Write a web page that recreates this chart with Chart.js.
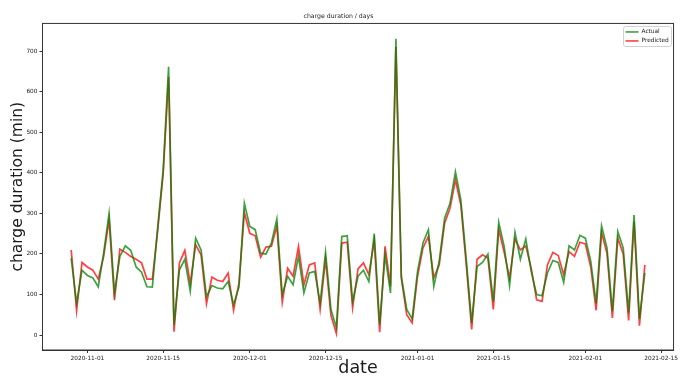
<!DOCTYPE html>
<html>
<head>
<meta charset="utf-8">
<script src="https://cdn.jsdelivr.net/npm/chart.js@4.4.0/dist/chart.umd.min.js"></script>
<style>
  html, body { margin: 0; padding: 0; background: #fff; }
  #wrap { width: 680px; height: 378px; }
</style>
</head>
<body>
<div id="wrap"><canvas id="chart"></canvas></div>
<script>
// daily values, first day 2020-10-29
var startDate = '2020-10-29';

var actual = [
  190, 79, 160, 147, 141, 119, 202, 300, 104, 194,
  220, 209, 168, 155, 119, 118, 268, 407, 662, 25,
  161, 187, 108, 239, 210, 95, 122, 116, 114, 132,
  75, 118, 325, 268, 260, 202, 200, 227, 286, 100,
  145, 124, 194, 104, 153, 157, 79, 204, 63, 18,
  243, 245, 83, 145, 160, 132, 250, 26, 198, 104,
  731, 145, 63, 40, 157, 227, 260, 120, 182, 288,
  325, 403, 333, 186, 30, 169, 179, 200, 83, 278,
  219, 122, 253, 187, 237, 157, 100, 97, 153, 184,
  179, 130, 220, 210, 246, 239, 182, 78, 269, 215,
  59, 255, 215, 55, 296, 40, 153
];

var predicted = [
  210, 60, 179, 168, 160, 138, 194, 284, 86, 212,
  204, 194, 187, 178, 138, 138, 260, 399, 637, 8,
  178, 209, 127, 223, 198, 77, 143, 135, 132, 153,
  61, 128, 302, 251, 245, 192, 217, 219, 269, 81,
  165, 145, 219, 124, 173, 178, 63, 187, 48, 4,
  227, 229, 67, 163, 178, 149, 233, 7, 219, 120,
  711, 140, 50, 30, 145, 215, 243, 141, 173, 276,
  313, 383, 321, 173, 14, 187, 198, 190, 63, 261,
  204, 141, 237, 210, 220, 165, 87, 83, 173, 204,
  196, 149, 206, 194, 229, 225, 168, 61, 253, 202,
  42, 239, 200, 36, 280, 23, 173
];

var tickDates = ['2020-11-01', '2020-11-15', '2020-12-01', '2020-12-15',
                 '2021-01-01', '2021-01-15', '2021-02-01', '2021-02-15'];
var yTicks = [0, 100, 200, 300, 400, 500, 600, 700];

function dayOffset(d) {
  var a = startDate.split('-'), b = d.split('-');
  return (Date.UTC(b[0], b[1] - 1, b[2]) - Date.UTC(a[0], a[1] - 1, a[2])) / 86400000;
}
var tickDays = tickDates.map(dayOffset);

function toPoints(arr) {
  return arr.map(function(v, i) { return { x: i, y: v }; });
}

var GREEN = 'rgba(0,128,0,0.75)';
var RED = 'rgba(255,0,0,0.75)';
var FONT = 'DejaVu Sans';
var TEXT = '#1a1a1a';

// spines on all four sides plus the boxed legend in the top right
var frameAndLegend = {
  id: 'frameAndLegend',
  afterDraw: function(chart) {
    var ctx = chart.ctx, a = chart.chartArea;
    ctx.save();
    ctx.strokeStyle = '#333';
    ctx.lineWidth = 1;
    ctx.strokeRect(a.left, a.top, a.right - a.left, a.bottom - a.top);

    var bx = a.right - 50, by = a.top + 3, bw = 48, bh = 20;
    ctx.fillStyle = 'rgba(255,255,255,0.8)';
    ctx.strokeStyle = '#d0d0d0';
    ctx.beginPath();
    ctx.roundRect(bx, by, bw, bh, 2);
    ctx.fill();
    ctx.stroke();

    ctx.font = '5.8px "' + FONT + '"';
    ctx.textBaseline = 'middle';
    ctx.textAlign = 'left';
    chart.data.datasets.forEach(function(ds, i) {
      var ry = by + 5.5 + i * 9;
      ctx.strokeStyle = ds.borderColor;
      ctx.lineWidth = 1.6;
      ctx.beginPath();
      ctx.moveTo(bx + 2, ry);
      ctx.lineTo(bx + 15, ry);
      ctx.stroke();
      ctx.fillStyle = TEXT;
      ctx.fillText(ds.label, bx + 18, ry);
    });
    ctx.restore();
  }
};

new Chart(document.getElementById('chart'), {
  type: 'line',
  data: {
    datasets: [{
      label: 'Actual',
      data: toPoints(actual),
      borderColor: GREEN,
      borderWidth: 1.7,
      pointRadius: 0,
      tension: 0
    }, {
      label: 'Predicted',
      data: toPoints(predicted),
      borderColor: RED,
      borderWidth: 1.7,
      pointRadius: 0,
      tension: 0
    }]
  },
  options: {
    responsive: true,
    maintainAspectRatio: false,
    animation: false,
    layout: {
      padding: { left: 0, right: 3, top: 0, bottom: 0 }
    },
    plugins: {
      legend: { display: false },
      tooltip: { enabled: false },
      title: {
        display: true,
        text: 'charge duration / days',
        color: TEXT,
        font: { family: FONT, size: 6.2, weight: 'normal' },
        padding: { top: 13, bottom: 3 }
      }
    },
    scales: {
      x: {
        type: 'linear',
        min: -5.3,
        max: 111.3,
        afterBuildTicks: function(scale) {
          scale.ticks = tickDays.map(function(v) { return { value: v }; });
        },
        afterFit: function(scale) { scale.height = 28; },
        ticks: {
          autoSkip: false,
          maxRotation: 0,
          padding: 2,
          color: TEXT,
          font: { family: FONT, size: 5.8 },
          callback: function(value, index) { return tickDates[index]; }
        },
        grid: { drawOnChartArea: false, tickLength: 3, color: '#333' },
        border: { color: '#333' },
        title: {
          display: true,
          text: 'date',
          color: TEXT,
          font: { family: FONT, size: 17.5 },
          padding: { top: 0, bottom: -1 }
        }
      },
      y: {
        min: -37,
        max: 769,
        afterBuildTicks: function(scale) {
          scale.ticks = yTicks.map(function(v) { return { value: v }; });
        },
        afterFit: function(scale) { scale.width = 42.5; },
        ticks: {
          padding: 2,
          color: TEXT,
          font: { family: FONT, size: 5.8 }
        },
        grid: { drawOnChartArea: false, tickLength: 3, color: '#333' },
        border: { color: '#333' },
        title: {
          display: true,
          text: 'charge duration (min)',
          color: TEXT,
          font: { family: FONT, size: 15.5 },
          padding: { top: 9, bottom: 0 }
        }
      }
    }
  },
  plugins: [frameAndLegend]
});
</script>
</body>
</html>
